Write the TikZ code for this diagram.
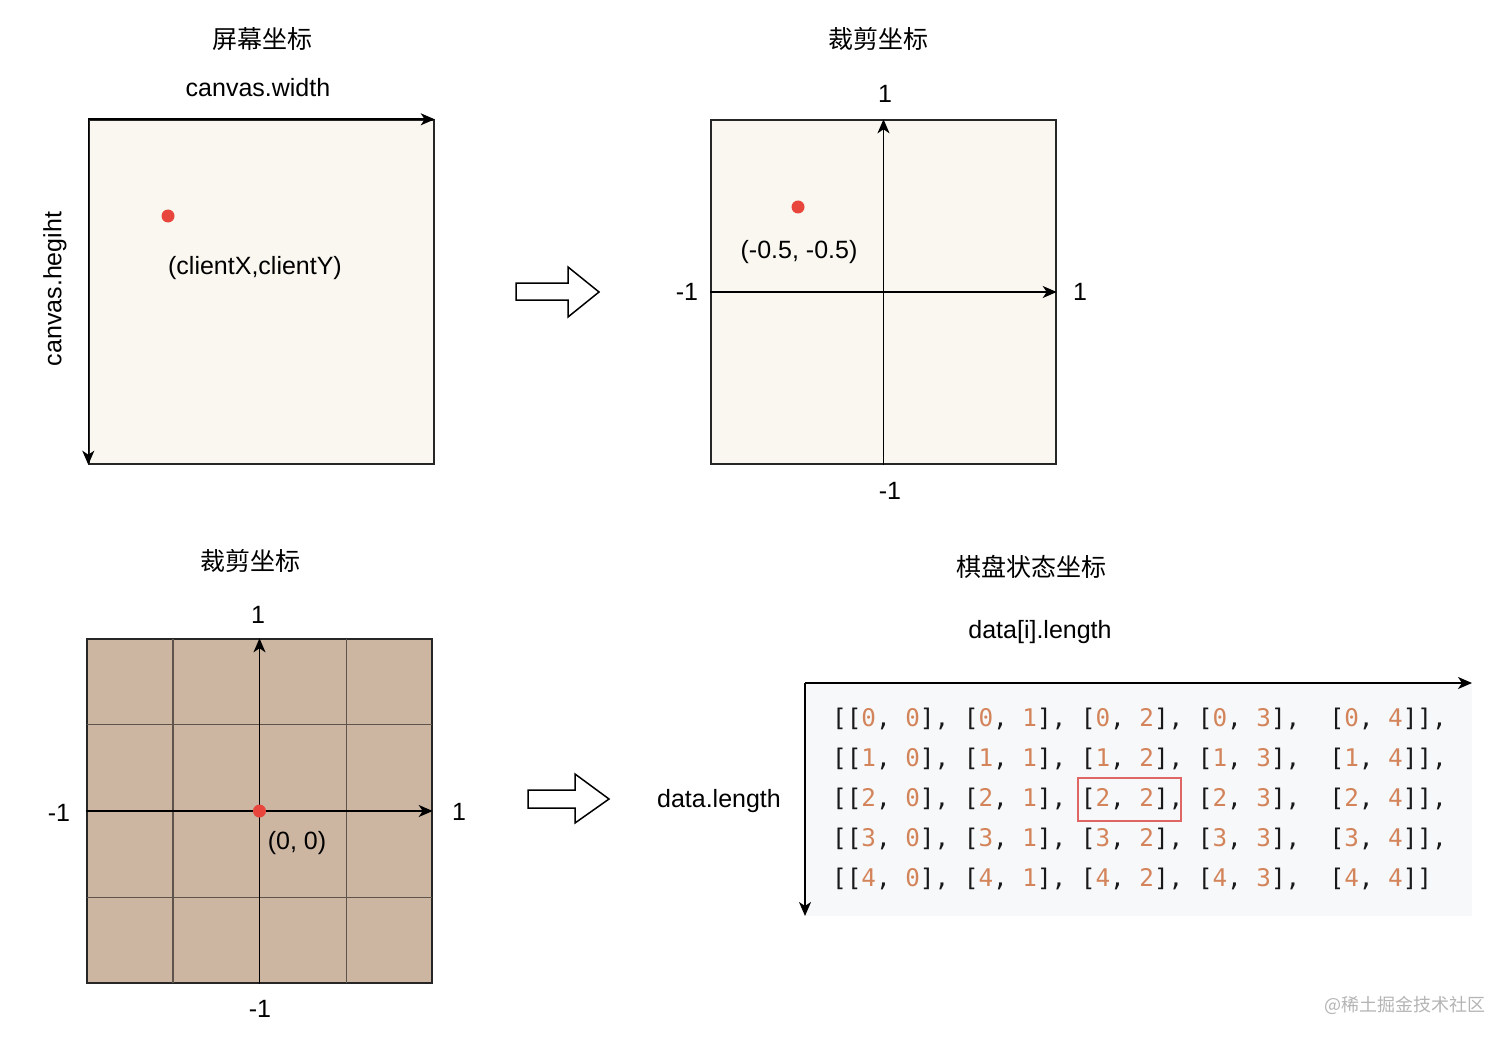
\documentclass[tikz,border=0pt]{standalone}
\usepackage{fontspec}
\setmainfont{Liberation Sans}
\newfontfamily\cjk{Noto Sans CJK SC}
\newfontfamily\monof{DejaVu Sans Mono}
\usetikzlibrary{arrows.meta,calc}
\definecolor{cream}{HTML}{F9F7EF}
\definecolor{tanfill}{HTML}{CCB5A1}
\definecolor{gridc}{HTML}{5E544C}
\definecolor{dotred}{HTML}{E8453C}
\definecolor{numc}{HTML}{D4845A}
\definecolor{codebg}{HTML}{F6F8FA}
\definecolor{hlred}{HTML}{E06666}
\definecolor{wmark}{HTML}{B4B4B4}
\newcommand\og[1]{\textcolor{numc}{#1}}
\begin{document}
\begin{tikzpicture}[x=1pt,y=-1pt,
  lbl/.style={font=\fontsize{25}{30}\selectfont, inner sep=0pt},
  ttl/.style={font=\cjk\fontsize{25}{30}\selectfont, inner sep=0pt},
  box/.style={draw=black!85, line width=1.4pt, minimum width=345pt, minimum height=344pt, inner sep=0pt},
  axis/.style={draw=black, line width=1.6pt, -{Stealth[length=14pt,width=12pt,inset=4pt]}},
  gridl/.style={draw=gridc, line width=1.2pt},
  dot/.style={circle, fill=dotred, minimum size=13pt, inner sep=0pt},
  barrow/.style={draw=black, line width=1.5pt, fill=white, line join=miter},
  coderow/.style={font=\monof\fontsize{24.3}{28}\selectfont, anchor=west, inner sep=0pt, text=black!90}
]
\useasboundingbox (0,0) rectangle (1512,1043);

% ---------- panel 1: screen coordinates ----------
\node[ttl] (t1) at (262,39) {屏幕坐标};
\node[lbl] (cw) at (258,88) {canvas.width};
\node[box, fill=cream] (scr) at (261.5,292) {};
\draw[axis] (scr.north west) -- (scr.north east);
\draw[axis] (scr.north west) -- (scr.south west);
\node[lbl, rotate=90] (ch) at (55,289) {canvas.hegiht};
\node[dot] (p1) at (168,216) {};
\node[lbl] (p1l) at (255,268) {(clientX,clientY)};

% block arrow 1
\draw[barrow] (516,283) -- (568,283) -- (568,267) -- (599,292) -- (568,317) -- (568,300) -- (516,300) -- cycle;

% ---------- panel 2: clip coordinates ----------
\node[ttl] (t2) at (878,39) {裁剪坐标};
\node[box, fill=cream] (clp) at (883.5,292) {};
\draw[axis] (clp.south) -- (clp.north);
\draw[axis] (clp.west) -- (clp.east);
\node[lbl] (c2t) at (885,94) {1};
\node[lbl] (c2l) at (687,292) {-1};
\node[lbl] (c2r) at (1080,292) {1};
\node[lbl] (c2b) at (890,491) {-1};
\node[dot] (p2) at (798,207) {};
\node[lbl] (p2l) at (799,252) {(-0.5, -0.5)};

% ---------- panel 3: clip grid ----------
\node[ttl] (t3) at (250,561) {裁剪坐标};
\node[box, fill=tanfill] (grd) at (259.5,811) {};
\foreach \f in {0.25,0.75}{
  \draw[gridl] ($(grd.north west)!\f!(grd.north east)$) -- ($(grd.south west)!\f!(grd.south east)$);
  \draw[gridl] ($(grd.north west)!\f!(grd.south west)$) -- ($(grd.north east)!\f!(grd.south east)$);
}
\draw[box, fill=none] (grd.north west) rectangle (grd.south east);
\draw[axis] (grd.south) -- (grd.north);
\draw[axis] (grd.west) -- (grd.east);
\node[dot] (p3) at (grd.center) {};
\node[lbl] (p3l) at (297,843) {(0, 0)};
\node[lbl] (c3t) at (258,615) {1};
\node[lbl] (c3l) at (59,813) {-1};
\node[lbl] (c3r) at (459,812) {1};
\node[lbl] (c3b) at (260,1009) {-1};

% block arrow 2
\draw[barrow] (528,790) -- (575,790) -- (575,774) -- (609,799) -- (575,823) -- (575,808) -- (528,808) -- cycle;

% ---------- panel 4: board state coordinates ----------
\node[ttl] (t4) at (1031,567) {棋盘状态坐标};
\node[lbl] (dil) at (1040,632) {data[i].length};
\node[lbl] (dl) at (719,801) {data.length};
\fill[codebg] (805,683) rectangle (1472,916);
\coordinate (o4) at (805,683);
\coordinate (x4) at (1472,683);
\coordinate (y4) at (805,916);
\draw[axis] (o4) -- (x4);
\draw[axis] (o4) -- (y4);
\node[coderow] (r0) at (832,719) {[[\og{0}, \og{0}], [\og{0}, \og{1}], [\og{0}, \og{2}], [\og{0}, \og{3}],\ \ [\og{0}, \og{4}]],};
\node[coderow] (r1) at (832,759) {[[\og{1}, \og{0}], [\og{1}, \og{1}], [\og{1}, \og{2}], [\og{1}, \og{3}],\ \ [\og{1}, \og{4}]],};
\node[coderow] (r2) at (832,799) {[[\og{2}, \og{0}], [\og{2}, \og{1}], [\og{2}, \og{2}], [\og{2}, \og{3}],\ \ [\og{2}, \og{4}]],};
\node[coderow] (r3) at (832,839) {[[\og{3}, \og{0}], [\og{3}, \og{1}], [\og{3}, \og{2}], [\og{3}, \og{3}],\ \ [\og{3}, \og{4}]],};
\node[coderow] (r4) at (832,879) {[[\og{4}, \og{0}], [\og{4}, \og{1}], [\og{4}, \og{2}], [\og{4}, \og{3}],\ \ [\og{4}, \og{4}]]};
\node[draw=hlred, line width=2.2pt, minimum width=103pt, minimum height=43pt, inner sep=0pt] (hl) at (1129.5,799.5) {};

% watermark
\node[font=\cjk\fontsize{18}{22}\selectfont, text=wmark, inner sep=0pt] (wm) at (1405,1005) {@稀土掘金技术社区};
\end{tikzpicture}
\end{document}
